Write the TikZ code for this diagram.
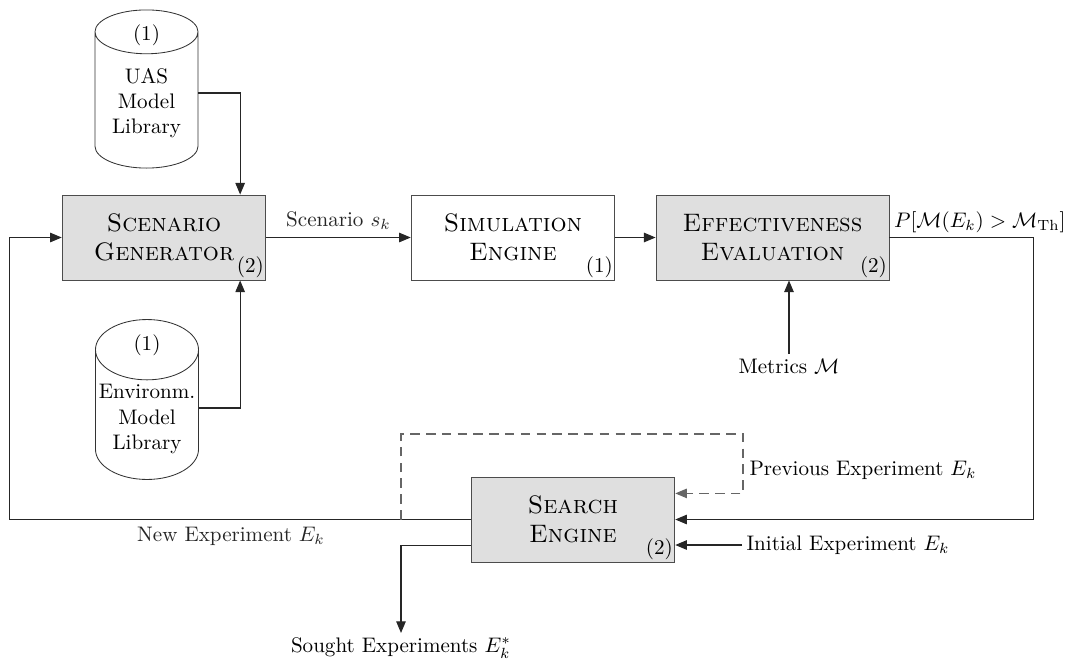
\documentclass[tikz,border=0pt]{standalone}
\usepackage{amsmath,amssymb}
\usepackage{tikz}
\usetikzlibrary{%
  shapes.geometric,
  arrows.meta,
  positioning,
  calc}
\tikzset{
  %% Process boxes
  procbox/.style={
    rectangle, draw=black!70, fill=gray!25,
    minimum width=3.4cm, minimum height=1.42cm,
    align=center, font=\large},
  simbox/.style={procbox, fill=white},
  %% Model libraries
  libcyl/.style={
    cylinder, shape border rotate=90, aspect=0.6,
    draw=black!80, fill=white, align=center,
    inner xsep=1pt, inner ysep=2pt,
    minimum width=1.72cm, minimum height=2.64cm,
    anchor=shape center},
  %% Small tags and labels
  tag/.style={inner sep=1pt},
  lbl/.style={inner sep=2pt},
  %% Arrows
  arrow/.style={-{Triangle[length=5.5pt,width=4.5pt]}, line width=0.5pt, black!85},
  darrow/.style={arrow, dash pattern=on 4.5pt off 3pt, black!60},
}
\begin{document}
\begin{tikzpicture}[x=0.0167cm, y=-0.0167cm]
  \useasboundingbox (0,0) rectangle (1073,665);

  %% Row 1: generation, simulation, evaluation
  \node[procbox] (gen) at (164,237.5) {\textsc{Scenario}\\ \textsc{Generator}};
  \node[simbox]  (sim) at (513,237.5) {\textsc{Simulation}\\ \textsc{Engine}};
  \node[procbox, minimum width=3.89cm] (eff) at (772.5,237.5)
    {\textsc{Effectiveness}\\ \textsc{Evaluation}};

  \node[tag, anchor=south east] (gentag) at (gen.south east) {(2)};
  \node[tag, anchor=south east] (simtag) at (sim.south east) {(1)};
  \node[tag, anchor=south east] (efftag) at (eff.south east) {(2)};

  \draw[arrow] (gen) -- node[above] {Scenario $s_k$} (sim);
  \draw[arrow] (sim) -- (eff);

  %% Model libraries
  \node[libcyl] (uas) at (146.5,89)  {UAS\\ Model\\ Library};
  \node[libcyl] (env) at (147,399.5) {Environm.\\ Model\\ Library};
  \node[tag, below=6pt of uas.north] (uastag) {(1)};
  \node[tag, below=6pt of env.north] (envtag) {(1)};

  \coordinate (uasout) at ($(uas.east |- uas.shape center)+(0,4)$);
  \coordinate (envout) at ($(env.east |- env.shape center)+(0,8.5)$);

  \draw[arrow] (uasout) -| ([xshift=-12.4pt]gen.north east);
  \draw[arrow] (envout) -| ([xshift=-12.4pt]gen.south east);

  %% Row 2: search
  \node[procbox] (search) at (573,519.5) {\textsc{Search}\\ \textsc{Engine}};
  \node[tag, anchor=south east] (searchtag) at (search.south east) {(2)};

  \node[lbl, anchor=south west] (pl) at (eff.east)
    {$P[\mathcal{M}(E_k) > \mathcal{M}_{\mathrm{Th}}]$};
  \node[lbl] (metl) at (789,366) {Metrics $\mathcal{M}$};
  \node[lbl, anchor=west] (prevl) at (745,470) {Previous Experiment $E_k$};
  \node[lbl, anchor=west] (initl) at (742,545) {Initial Experiment $E_k$};
  \node[lbl] (sought) at (401,648) {Sought Experiments $E_k^*$};

  \coordinate (dsplit) at (401,519.5);
  \coordinate (dtop)   at (743,434);

  %% Feedback loops
  \draw[arrow] (eff.east) -- ++(144,0) |- (search.east);
  \draw[arrow] (search.west) -- node[below, pos=0.52] {New Experiment $E_k$}
    ++(-461,0) |- (gen.west);
  \draw[darrow] (dsplit) |- (dtop) |- ([yshift=12.4pt]search.east);
  \draw[arrow] (initl.west) -- (initl.west -| search.east);
  \draw[arrow] ([yshift=-12.4pt]search.west) -| (sought);
  \draw[arrow] (metl.north) -- (metl.north |- eff.south);

\end{tikzpicture}
\end{document}
